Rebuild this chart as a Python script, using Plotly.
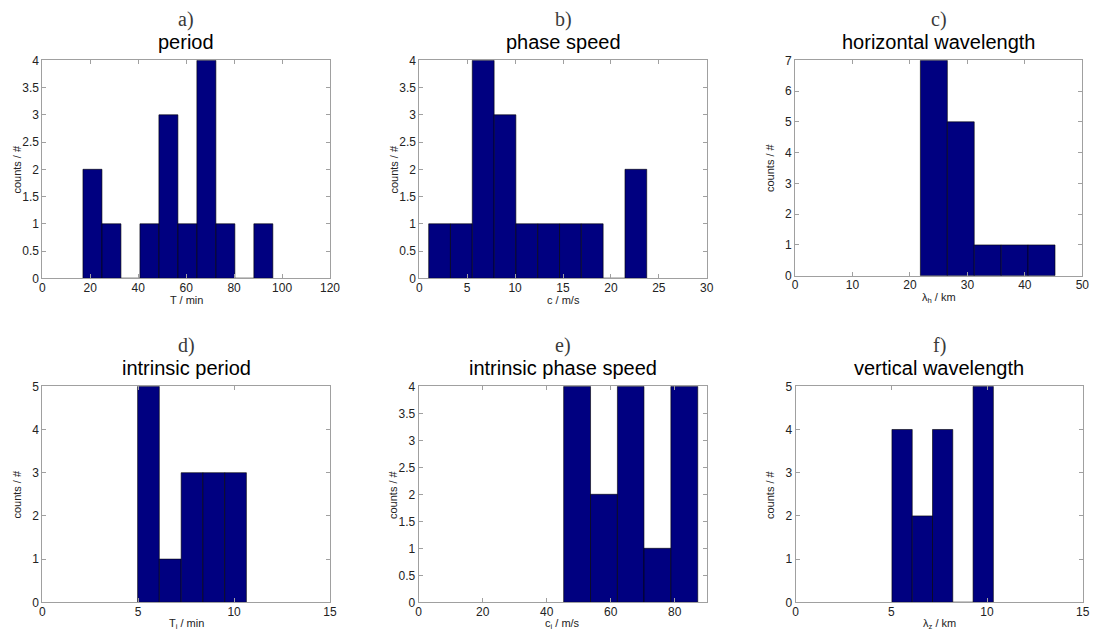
import numpy as np
import plotly.graph_objects as go

W, H = 1094, 636

# ---- data (bin edges and counts) ----
period_edges = [16.96, 24.88, 32.80, 40.72, 48.64, 56.56, 64.48, 72.40, 80.32, 88.24, 96.16]
period_counts = [2, 1, 0, 1, 3, 1, 4, 1, 0, 1]

phase_edges = [0.98, 3.25, 5.53, 7.81, 10.08, 12.36, 14.64, 16.91, 19.19, 21.47, 23.74]
phase_counts = [1, 1, 4, 3, 1, 1, 1, 1, 0, 2]

hwave_edges = [21.82, 26.51, 31.19, 35.88, 40.56, 45.25]
hwave_counts = [7, 5, 1, 1, 1]

iperiod_edges = [4.97, 6.10, 7.24, 8.37, 9.51, 10.64]
iperiod_counts = [5, 1, 3, 3, 3]

iphase_edges = [45.3, 53.7, 62.1, 70.4, 78.8, 87.2]
iphase_counts = [4, 2, 4, 1, 4]

vwave_edges = [5.03, 6.09, 7.15, 8.21, 9.27, 10.33]
vwave_counts = [4, 2, 4, 0, 5]

letters = ["a)", "b)", "c)", "d)", "e)", "f)"]
titles = ["period", "phase speed", "horizontal wavelength",
          "intrinsic period", "intrinsic phase speed", "vertical wavelength"]
xlabels = ["T / min", "c / m/s", "λ<sub>h</sub> / km",
           "T<sub>i</sub> / min", "c<sub>i</sub> / m/s", "λ<sub>z</sub> / km"]
ylabel = "counts / #"
x_ranges = [[0, 120], [0, 30], [0, 50], [0, 15], [0, 90], [0, 15]]
x_ticks = [[0, 20, 40, 60, 80, 100, 120], [0, 5, 10, 15, 20, 25, 30],
           [0, 10, 20, 30, 40, 50], [0, 5, 10, 15], [0, 20, 40, 60, 80], [0, 5, 10, 15]]
y_ranges = [[0, 4], [0, 4], [0, 7], [0, 5], [0, 4], [0, 5]]
y_dticks = [0.5, 0.5, 1, 1, 0.5, 1]

edges_list = [period_edges, phase_edges, hwave_edges, iperiod_edges, iphase_edges, vwave_edges]
counts_list = [period_counts, phase_counts, hwave_counts, iperiod_counts, iphase_counts, vwave_counts]

# ---- layout geometry (pixels) ----
boxes = [  # left, right, top, bottom
    (42.3, 330.0, 60.3, 278.3),
    (419.3, 706.7, 60.3, 278.3),
    (795.0, 1082.3, 60.3, 275.7),
    (42.3, 330.0, 386.3, 602.3),
    (418.7, 706.7, 386.3, 602.3),
    (795.7, 1082.7, 386.3, 602.3),
]

NAVY = "#000080"
AXC = "#a0a0a0"
TXT = "#222222"
FONT = "Liberation Sans, Arial, sans-serif"

fig = go.Figure()
layout = dict(
    width=W, height=H, margin=dict(l=0, r=0, t=0, b=0),
    paper_bgcolor="white", plot_bgcolor="white",
    showlegend=False, font=dict(family=FONT, color=TXT, size=12),
    annotations=[],
)


def ann(text, xpx, ypx, size, family=FONT, color=TXT, angle=0):
    return dict(text=text, x=xpx / W, y=1 - ypx / H, xref="paper", yref="paper",
                xanchor="center", yanchor="middle", showarrow=False, textangle=angle,
                font=dict(family=family, size=size, color=color))


for i in range(6):
    e = np.array(edges_list[i], dtype=float)
    c = np.array(counts_list[i], dtype=float)
    centers = (e[:-1] + e[1:]) / 2
    widths = np.diff(e)
    sfx = "" if i == 0 else str(i + 1)
    fig.add_trace(go.Bar(
        x=centers, y=c, width=widths,
        marker=dict(color=NAVY, line=dict(color="black", width=0.6)),
        xaxis="x" + sfx, yaxis="y" + sfx, hoverinfo="x+y",
    ))
    l, r, t, b = boxes[i]
    common = dict(showline=True, linecolor=AXC, linewidth=1, mirror="ticks",
                  ticks="inside", ticklen=4, tickcolor=AXC, tickwidth=1,
                  showgrid=False, zeroline=False, automargin=False,
                  tickfont=dict(family=FONT, size=12, color=TXT))
    layout["xaxis" + sfx] = dict(
        common, domain=[l / W, r / W], range=x_ranges[i],
        tickmode="array", tickvals=x_ticks[i], anchor="y" + sfx,
        ticklabelstandoff=-2,
    )
    layout["yaxis" + sfx] = dict(
        common, domain=[1 - b / H, 1 - t / H], range=y_ranges[i],
        dtick=y_dticks[i], tick0=0, anchor="x" + sfx,
    )
    cx = (l + r) / 2
    layout["annotations"].append(ann(letters[i], cx, t - 41, 20,
                                     family="Liberation Serif, Times New Roman, serif",
                                     color="#3a3a3a"))
    layout["annotations"].append(ann(titles[i], cx, t - 18, 20, color="black"))
    layout["annotations"].append(ann(xlabels[i], cx, b + 22, 11))
    layout["annotations"].append(ann(ylabel, l - 25, (t + b) / 2, 11, angle=-90))

fig.update_layout(**layout)
fig.write_html("out.html")
